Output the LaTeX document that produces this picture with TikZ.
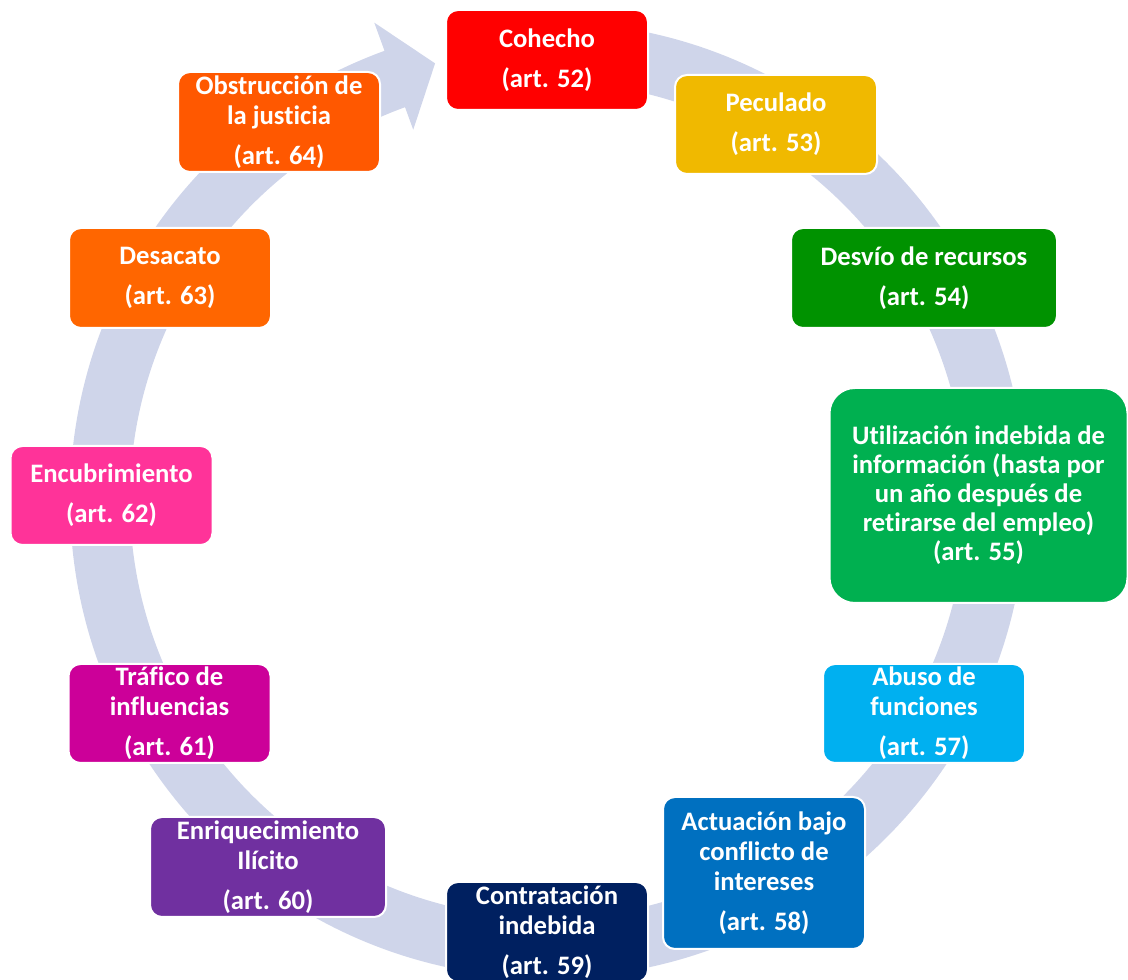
\documentclass[tikz,border=0pt]{standalone}
\usepackage{fontspec}
\setmainfont{Carlito}[RawFeature={-liga;-clig;-dlig}]
\usetikzlibrary{calc}
\definecolor{ringc}{RGB}{207,213,234}
\definecolor{cCoh}{HTML}{FF0000}
\definecolor{cPec}{HTML}{F0B900}
\definecolor{cDes}{HTML}{009200}
\definecolor{cUti}{HTML}{00B050}
\definecolor{cAbu}{HTML}{00B0F0}
\definecolor{cAct}{HTML}{0070C0}
\definecolor{cCon}{HTML}{002060}
\definecolor{cEnr}{HTML}{7030A0}
\definecolor{cTra}{HTML}{CC0099}
\definecolor{cEnc}{HTML}{FF3399}
\definecolor{cDsc}{HTML}{FF6600}
\definecolor{cObs}{HTML}{FF5800}
\tikzset{
  crimebox/.style={rectangle, rounded corners=9pt, draw=white, line width=1.5pt,
    text=white, align=center, inner sep=0pt, outer sep=0pt,
    minimum width=151.5pt, minimum height=75pt,
    font=\fontsize{20}{22.5}\selectfont\bfseries},
}
\begin{document}
\begin{tikzpicture}[x=0.75pt,y=0.75pt]
\useasboundingbox (0,0) rectangle (1128,980);
% ring arrow
\coordinate (c) at (548,480);
\path (c) ++(92:478) coordinate (ostart);
\path (c) ++(-250:508) coordinate (hb1);
\path (c) ++(-255.5:451) coordinate (tip);
\path (c) ++(-250:394) coordinate (hb2);
\path (c) ++(-250:418) coordinate (hin);
\fill[ringc] (ostart) arc[start angle=92, end angle=-250, radius=478]
  -- (hb1) -- (tip) -- (hb2) -- (hin)
  arc[start angle=-250, end angle=92, radius=418] -- cycle;
% boxes
\node[crimebox, fill=cCoh] (coh) at (547,920) {Cohecho\\[7.5pt](art. 52)};
\node[crimebox, fill=cPec, minimum height=74.25pt] (pec) at (776,855.5) {Peculado\\[7.5pt](art. 53)};
\node[crimebox, fill=cDes, minimum width=199.5pt] (des) at (924,702) {Desvío de recursos\\[7.5pt](art. 54)};
\node[crimebox, fill=cUti, minimum width=223.5pt, minimum height=161.25pt, rounded corners=19pt,
  font=\fontsize{20}{21.75}\selectfont\bfseries] (uti) at (978.5,484.5)
  {Utilización indebida de\\información (hasta por\\un año después de\\retirarse del empleo)\\(art. 55)};
\node[crimebox, fill=cAbu, minimum height=74.25pt] (abu) at (924,266.5) {Abuso de\\funciones\\[7.5pt](art. 57)};
\node[crimebox, fill=cAct, minimum height=114pt] (act) at (764,107) {Actuación bajo\\conflicto de\\intereses\\[7.5pt](art. 58)};
\node[crimebox, fill=cCon] (con) at (547,48) {Contratación\\indebida\\[7.5pt](art. 59)};
\node[crimebox, fill=cEnr, minimum width=177pt] (enr) at (268,113) {Enriquecimiento\\Ilícito\\[7.5pt](art. 60)};
\node[crimebox, fill=cTra, minimum height=74.25pt] (tra) at (169.5,266.5) {Tráfico de\\influencias\\[7.5pt](art. 61)};
\node[crimebox, fill=cEnc, minimum height=74.25pt] (enc) at (111.5,484.5) {Encubrimiento\\[7.5pt](art. 62)};
\node[crimebox, fill=cDsc] (dsc) at (170,702) {Desacato\\[7.5pt](art. 63)};
\node[crimebox, fill=cObs] (obs) at (279,858) {Obstrucción de\\la justicia\\[7.5pt](art. 64)};
\end{tikzpicture}
\end{document}
